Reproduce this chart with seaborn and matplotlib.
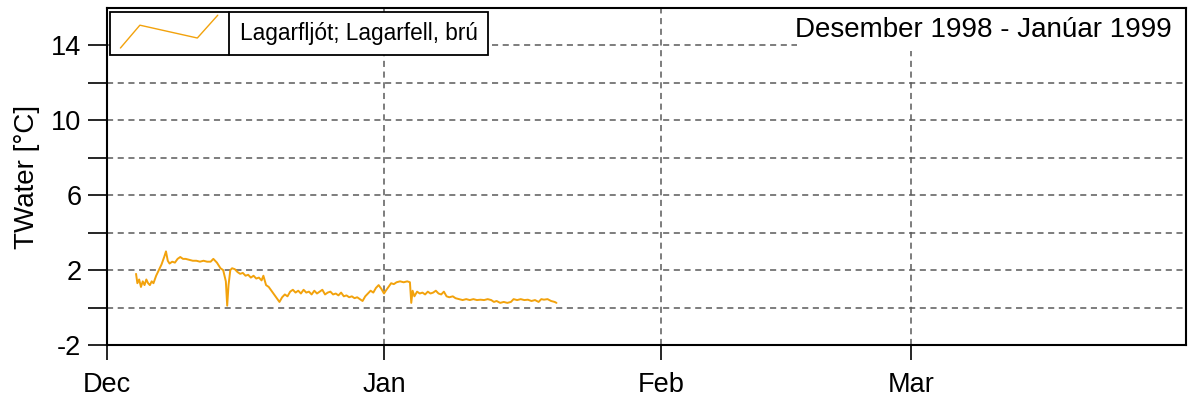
import numpy as np
import pandas as pd
import matplotlib
matplotlib.use("Agg")
import matplotlib.pyplot as plt
import matplotlib.dates as mdates
from matplotlib.lines import Line2D
from matplotlib.patches import Rectangle
from matplotlib.legend_handler import HandlerBase
import seaborn as sns

# ---- data (days after 1998-12-01 00:00, water temperature in °C) ----
series_name = "Lagarfljót; Lagarfell, brú"
period_label = "Desember 1998 - Janúar 1999"
start_date = "1998-12-01"
day_offsets = [
    3.25, 3.4, 3.6, 3.8, 4.0, 4.2, 4.4, 4.6, 4.8, 5.0, 5.2, 5.5, 5.8, 6.1, 6.4, 6.6,
    6.8, 7.0, 7.3, 7.6, 7.9, 8.2, 8.5, 8.8, 9.2, 9.6, 10.0, 10.4, 10.8, 11.2, 11.6,
    11.9, 12.3, 12.7, 13.0, 13.3, 13.45, 13.6, 13.8, 14.0, 14.3, 14.6, 14.9, 15.2,
    15.5, 15.8, 16.1, 16.4, 16.7, 17.0, 17.3, 17.5, 17.8, 18.1, 18.4, 18.7, 19.0,
    19.3, 19.6, 19.9, 20.2, 20.5, 20.8, 21.1, 21.4, 21.7, 22.0, 22.3, 22.6, 22.9,
    23.2, 23.5, 23.8, 24.1, 24.4, 24.7, 25.0, 25.3, 25.6, 25.9, 26.2, 26.5, 26.8,
    27.1, 27.4, 27.7, 28.0, 28.3, 28.6, 28.9, 29.2, 29.5, 29.8, 30.1, 30.4, 30.7,
    31.0, 31.2, 31.5, 31.8, 32.1, 32.4, 32.8, 33.2, 33.6, 33.9, 34.05, 34.2, 34.4,
    34.7, 35.0, 35.3, 35.6, 35.9, 36.2, 36.5, 36.8, 37.1, 37.4, 37.7, 38.0, 38.3,
    38.7, 39.0, 39.4, 39.8, 40.2, 40.6, 41.0, 41.4, 41.8, 42.2, 42.6, 43.0, 43.3,
    43.6, 44.0, 44.4, 44.8, 45.2, 45.5, 45.9, 46.3, 46.7, 47.1, 47.5, 47.9, 48.3,
    48.6, 48.9, 49.3, 49.7, 50.1, 50.3,
]
water_temp = [
    1.8, 1.3, 1.5, 1.1, 1.4, 1.2, 1.5, 1.3, 1.2, 1.4, 1.3, 1.7, 2.0, 2.3, 2.7, 3.0,
    2.5, 2.35, 2.45, 2.4, 2.6, 2.7, 2.6, 2.6, 2.55, 2.5, 2.5, 2.45, 2.5, 2.45, 2.45,
    2.6, 2.4, 2.1, 2.0, 1.4, 0.1, 1.2, 2.0, 2.1, 2.05, 1.9, 1.8, 1.85,
    1.7, 1.75, 1.6, 1.7, 1.55, 1.6, 1.45, 1.7, 1.2, 1.1, 0.9, 0.7, 0.5,
    0.3, 0.55, 0.7, 0.6, 0.85, 0.95, 0.8, 0.9, 0.75, 0.95, 0.8, 0.85, 0.7,
    0.9, 0.75, 0.85, 0.95, 0.7, 0.8, 0.85, 0.7, 0.75, 0.65, 0.8, 0.6, 0.65,
    0.55, 0.6, 0.5, 0.55, 0.45, 0.35, 0.6, 0.75, 0.9, 0.8, 1.05, 1.2, 1.0,
    0.75, 0.9, 1.1, 1.3, 1.25, 1.35, 1.4, 1.35, 1.4, 1.35, 0.25, 0.9, 0.6,
    0.85, 0.75, 0.8, 0.7, 0.85, 0.75, 0.8, 0.9, 0.75, 0.7, 0.85, 0.6, 0.55,
    0.6, 0.5, 0.45, 0.4, 0.45, 0.4, 0.45, 0.4, 0.42, 0.4, 0.45, 0.4, 0.3,
    0.35, 0.25, 0.3, 0.25, 0.3, 0.45, 0.4, 0.45, 0.4, 0.42, 0.35, 0.4, 0.3,
    0.45, 0.42, 0.45, 0.35, 0.3, 0.25,
]
y_ticks = [-2, 0, 2, 4, 6, 8, 10, 12, 14]
y_tick_labels = ["-2", "", "2", "", "6", "", "10", "", "14"]
x_start, x_end = "1998-12-01", "1999-03-31 18:00"

# ---- styling ----
sns.set_style("white")
plt.rcParams["font.family"] = ["Liberation Sans", "DejaVu Sans"]
plt.rcParams["text.color"] = "black"
plt.rcParams["axes.labelcolor"] = "black"
line_color = "#F2A20C"
grid_color = "#5a5a5a"

times = pd.Timestamp(start_date) + pd.to_timedelta(day_offsets, unit="D")
df = pd.DataFrame({"time": times, "temp": water_temp})

fig = plt.figure(figsize=(11.9, 4.03), dpi=100)
ax = fig.add_axes([107 / 1190, 58 / 403, 1079 / 1190, 337 / 403])

sns.lineplot(data=df, x="time", y="temp", ax=ax, color=line_color, lw=1.4,
             label=series_name, legend=False)

ax.set_xlim(pd.Timestamp(x_start), pd.Timestamp(x_end))
ax.set_ylim(-2, 16)
ax.set_yticks(y_ticks)
ax.set_yticklabels(y_tick_labels)
ax.xaxis.set_major_locator(mdates.MonthLocator())
ax.xaxis.set_major_formatter(mdates.DateFormatter("%b"))

ax.grid(True, color=grid_color, linestyle=(0, (4, 3)), lw=1.1)
ax.set_axisbelow(True)
for s in ax.spines.values():
    s.set_visible(True)
    s.set_color("black")
    s.set_linewidth(1.5)
    s.set_zorder(7)

ax.tick_params(axis="y", left=True, direction="out", length=13.5, width=1.2,
               pad=5, labelsize=19.5, colors="black")
ax.tick_params(axis="x", bottom=True, direction="out", length=10.8, width=1.2,
               pad=9, labelsize=19.5, colors="black")
ax.set_xlabel("")
ax.set_ylabel("TWater [°C]", fontsize=20, labelpad=8, color="black")

# period label on a white panel at the top right
ax.add_patch(Rectangle((0.6395, 0.872), 0.3605, 0.128, transform=ax.transAxes,
                       facecolor="white", edgecolor="none", zorder=4))
ax.text(0.987, 0.972, period_label, transform=ax.transAxes, ha="right", va="top",
        fontsize=20, zorder=5, color="black")


class ZigZagHandler(HandlerBase):
    def create_artists(self, legend, orig_handle, xdescent, ydescent, width,
                       height, fontsize, trans):
        xs = np.array([0.0, 0.2, 0.79, 1.0]) * width - xdescent
        ys = np.array([-0.49, 0.95, 0.14, 1.58]) * height - ydescent
        ln = Line2D(xs, ys, color=orig_handle.get_color(), lw=1.0, transform=trans)
        return [ln]


handle = ax.get_lines()[0]
leg = ax.legend([handle], [series_name], loc="upper left",
                bbox_to_anchor=(0.003, 0.988), borderaxespad=0, fontsize=16.3,
                handler_map={Line2D: ZigZagHandler()}, handlelength=4.3,
                handletextpad=1.0, borderpad=0.45, fancybox=False,
                frameon=True, framealpha=1, edgecolor="black")
leg.get_frame().set_linewidth(1.3)
leg.set_zorder(6)
for t in leg.get_texts():
    t.set_color("black")

# divider between icon and text in legend
fig.canvas.draw()
renderer = fig.canvas.get_renderer()
lb = leg.get_frame().get_window_extent(renderer)
tb = leg.get_texts()[0].get_window_extent(renderer)
xdiv = tb.x0 - 0.5 * 16.3 * 100 / 72 * 1.0
inv = fig.transFigure.inverted()
(x0f, y0f) = inv.transform((xdiv, lb.y0))
(x1f, y1f) = inv.transform((xdiv, lb.y1))
fig.add_artist(Line2D([x0f, x1f], [y0f, y1f], color="black", lw=1.3,
                      transform=fig.transFigure, zorder=10))

fig.savefig("out.png", dpi=100)
